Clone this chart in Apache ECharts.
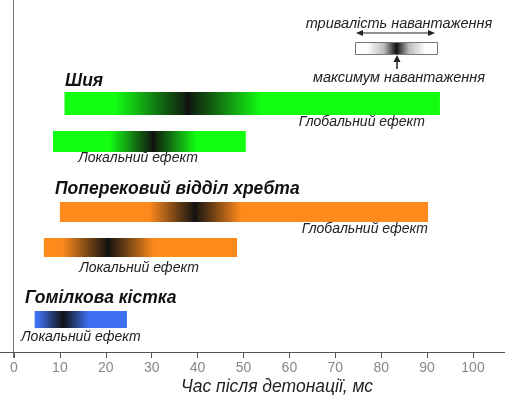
<!DOCTYPE html>
<html><head><meta charset="utf-8">
<script src="https://cdn.jsdelivr.net/npm/echarts@6/dist/echarts.min.js"></script>
<style>html,body{margin:0;padding:0;background:#fff}#c{width:509px;height:395px}</style>
</head><body><div id="c"></div>
<script>
// Data (ms after detonation)
const groups = ['Шия', 'Поперековий відділ хребта', 'Гомілкова кістка'];
const barNames = ['Шия: глобальний', 'Шия: локальний', 'Поперек: глобальний', 'Поперек: локальний', 'Гомілка: локальний'];
const barStart = [11, 8.5, 10, 6.5, 4.5];
const barEnd   = [92.8, 50.5, 90.2, 48.6, 24.6];
const barPeak  = [38, 30.3, 39.4, 20.5, 10.7];
const barSpread= [16, 9.5, 10, 10, 5.5];
const xTicks = [0, 10, 20, 30, 40, 50, 60, 70, 80, 90, 100];
const xTitle = 'Час після детонації, мс';

// Layout (pixels)
const rowY = [103.5, 141.5, 212, 247.5, 319.5];
const rowH = [23, 21, 20, 19, 17];
const barColor = ['#12ff12', '#12ff12', '#ff8a1c', '#ff8a1c', '#3f6ff2'];

function mix(c, t) { // mix color c with black
  const r = parseInt(c.slice(1,3),16), g = parseInt(c.slice(3,5),16), b = parseInt(c.slice(5,7),16);
  const f = v => Math.round(v*(1-t) + 17*t);
  return 'rgb(' + f(r) + ',' + f(g) + ',' + f(b) + ')';
}

const data = barStart.map((s, i) => [s, barEnd[i], barPeak[i], barSpread[i], i]);

const chart = echarts.init(document.getElementById('c'));
const LF = 'italic 14px Liberation Sans';
const TF = 'italic bold 17.5px Liberation Sans';
chart.setOption({
  animation: false,
  grid: {left: 14, right: 36, top: 0, bottom: 43},
  xAxis: {
    type: 'value', min: xTicks[0], max: xTicks[xTicks.length-1], interval: 10,
    axisLine: {show: true, onZero: false, lineStyle: {color: '#555', width: 1}},
    axisTick: {show: true, inside: false, length: 6, lineStyle: {color: '#555'}},
    axisLabel: {color: '#888', fontSize: 14, fontFamily: 'Liberation Sans', margin: 9},
    splitLine: {show: false}
  },
  yAxis: {type: 'value', min: 0, max: 352, show: false},
  series: [{
    type: 'custom',
    encode: {x: [0, 1, 2]},
    data: data,
    renderItem: function (params, api) {
      const s = api.value(0), e = api.value(1), p = api.value(2), sp = api.value(3), i = api.value(4);
      const a = api.coord([s, 0]), b = api.coord([e, 0]);
      const w = b[0] - a[0];
      const pf = (p - s) / (e - s), sf = sp / (e - s);
      const c = barColor[i];
      const cl = v => Math.max(0, Math.min(1, v));
      const prof = [[1, 0], [0.6, 0.4], [0.3, 0.7], [0.08, 0.9]];
      const stops = [{offset: 0, color: c}];
      prof.forEach(q => stops.push({offset: cl(pf - sf * q[0]), color: mix(c, q[1])}));
      stops.push({offset: cl(pf), color: '#111'});
      prof.slice().reverse().forEach(q => stops.push({offset: cl(pf + sf * q[0]), color: mix(c, q[1])}));
      stops.push({offset: 1, color: c});
      return {
        type: 'rect',
        shape: {x: a[0], y: rowY[i] - rowH[i] / 2, width: w, height: rowH[i]},
        style: {fill: new echarts.graphic.LinearGradient(0, 0, 1, 0, stops)}
      };
    }
  }],
  graphic: [
    {type: 'line', shape: {x1: 13.5, y1: 0, x2: 13.5, y2: 358}, style: {stroke: '#777', lineWidth: 1}},
    {type: 'line', shape: {x1: 0, y1: 352.5, x2: 505, y2: 352.5}, style: {stroke: '#555', lineWidth: 1}},
    {type: 'text', x: 277, y: 387, style: {text: xTitle, font: 'italic 17.5px Liberation Sans', fill: '#222', align: 'center', verticalAlign: 'middle'}},
    // group titles
    {type: 'text', x: 65, y: 81, style: {text: groups[0], font: TF, fill: '#111', verticalAlign: 'middle'}},
    {type: 'text', x: 55, y: 189, style: {text: groups[1], font: TF, fill: '#111', verticalAlign: 'middle'}},
    {type: 'text', x: 25, y: 298, style: {text: groups[2], font: TF, fill: '#111', verticalAlign: 'middle'}},
    // bar labels
    {type: 'text', x: 425, y: 122, style: {text: 'Глобальний ефект', font: LF, fill: '#222', align: 'right', verticalAlign: 'middle'}},
    {type: 'text', x: 138, y: 158, style: {text: 'Локальний ефект', font: LF, fill: '#222', align: 'center', verticalAlign: 'middle'}},
    {type: 'text', x: 428, y: 229, style: {text: 'Глобальний ефект', font: LF, fill: '#222', align: 'right', verticalAlign: 'middle'}},
    {type: 'text', x: 139, y: 268, style: {text: 'Локальний ефект', font: LF, fill: '#222', align: 'center', verticalAlign: 'middle'}},
    {type: 'text', x: 21, y: 337, style: {text: 'Локальний ефект', font: LF, fill: '#222', align: 'left', verticalAlign: 'middle'}},
    // legend
    {type: 'text', x: 399, y: 24, style: {text: 'тривалість навантаження', font: 'italic 14.5px Liberation Sans', fill: '#222', align: 'center', verticalAlign: 'middle'}},
    {type: 'line', shape: {x1: 360, y1: 33, x2: 431, y2: 33}, style: {stroke: '#222', lineWidth: 1.2}},
    {type: 'polygon', shape: {points: [[356, 33], [363, 30], [363, 36]]}, style: {fill: '#222'}},
    {type: 'polygon', shape: {points: [[435, 33], [428, 30], [428, 36]]}, style: {fill: '#222'}},
    {type: 'rect', shape: {x: 355.5, y: 42.5, width: 82, height: 12},
      style: {stroke: '#777', lineWidth: 1, fill: new echarts.graphic.LinearGradient(0, 0, 1, 0, [
        {offset: 0, color: '#fff'}, {offset: 0.15, color: '#fff'}, {offset: 0.35, color: '#bbb'},
        {offset: 0.5, color: '#111'}, {offset: 0.65, color: '#bbb'}, {offset: 0.85, color: '#fff'}, {offset: 1, color: '#fff'}])}},
    {type: 'line', shape: {x1: 397, y1: 69, x2: 397, y2: 60}, style: {stroke: '#222', lineWidth: 1.5}},
    {type: 'polygon', shape: {points: [[397, 55], [393.5, 62], [400.5, 62]]}, style: {fill: '#222'}},
    {type: 'text', x: 399, y: 78, style: {text: 'максимум навантаження', font: 'italic 14.5px Liberation Sans', fill: '#222', align: 'center', verticalAlign: 'middle'}}
  ]
});
</script>
</body></html>
